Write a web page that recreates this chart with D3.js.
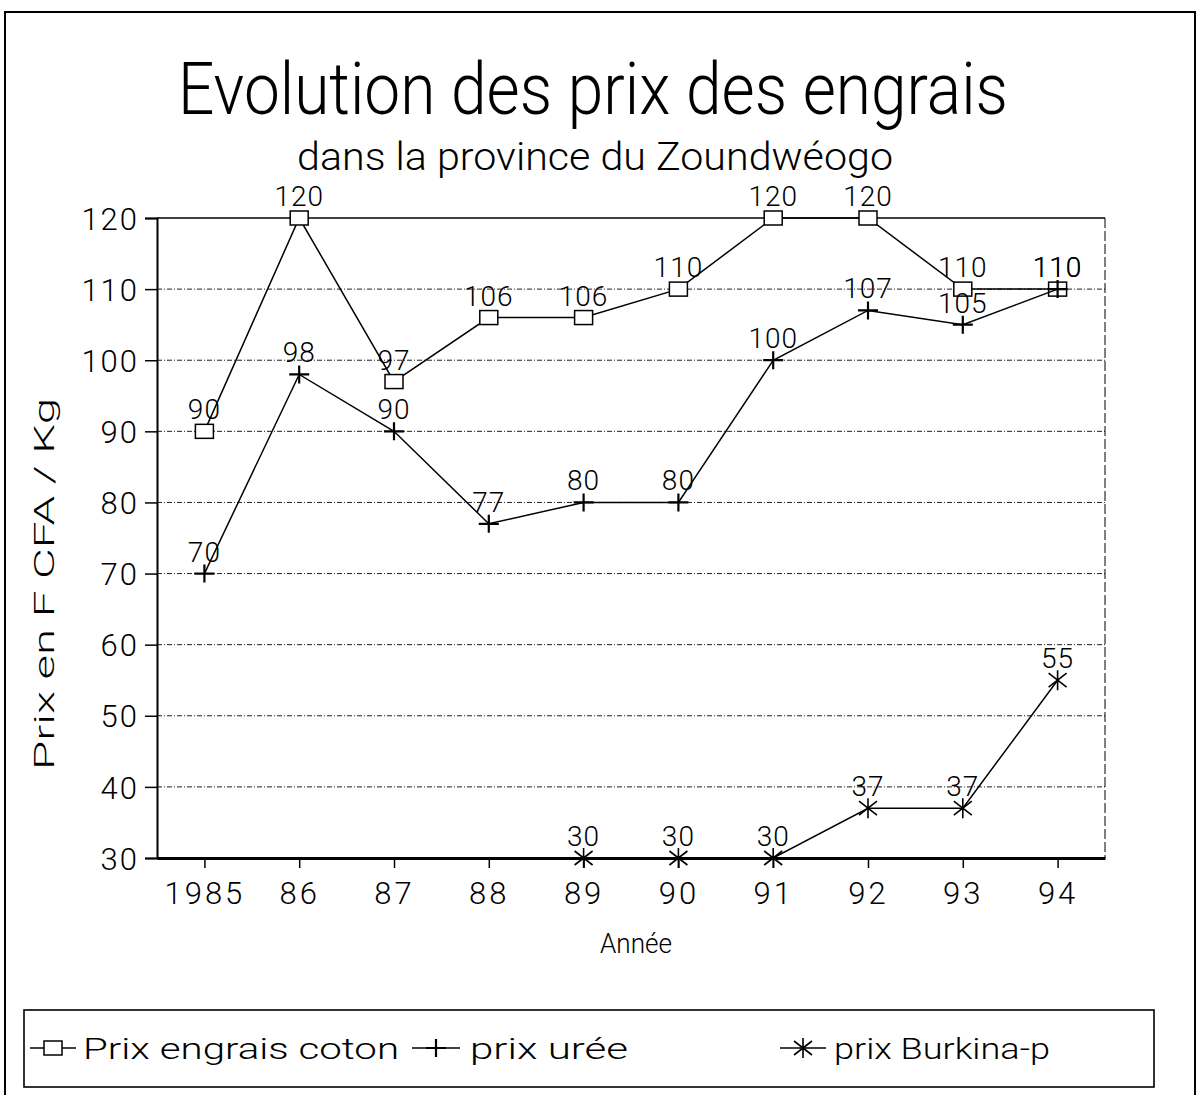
<!DOCTYPE html>
<html>
<head>
<meta charset="utf-8">
<script src="https://cdn.jsdelivr.net/npm/d3@7"></script>
<style>
  html, body { margin: 0; padding: 0; background: #fff; }
  svg { display: block; }
  text { font-family: Roboto, "DejaVu Sans", sans-serif; font-weight: 300; fill: #000; }
</style>
</head>
<body>
<svg id="chart" width="1203" height="1095"></svg>
<script>
const years = ["1985", "86", "87", "88", "89", "90", "91", "92", "93", "94"];
const prixCoton = [90, 120, 97, 106, 106, 110, 120, 120, 110, 110];
const prixUree = [70, 98, 90, 77, 80, 80, 100, 107, 105, 110];
const prixBurkina = [null, null, null, null, 30, 30, 30, 37, 37, 55];
const yTicks = [30, 40, 50, 60, 70, 80, 90, 100, 110, 120];
const seriesNames = ["Prix engrais coton", "prix urée", "prix Burkina-p"];

const svg = d3.select("#chart");
const plot = { left: 157, right: 1105, top: 218, bottom: 858 };

const x = d3.scalePoint().domain(years).range([plot.left, plot.right]).padding(0.5);
const y = d3.scaleLinear().domain([30, 120]).range([plot.bottom, plot.top]);

// Outer frame
svg.append("path")
  .attr("d", `M5,1095 V12 H1195 V1095`)
  .attr("fill", "none").attr("stroke", "#000").attr("stroke-width", 2);

// Title
svg.append("text").attr("x", 593).attr("y", 114).attr("text-anchor", "middle")
  .attr("font-size", 72).attr("textLength", 830).attr("lengthAdjust", "spacingAndGlyphs")
  .text("Evolution des prix des engrais");
svg.append("text").attr("x", 595).attr("y", 170).attr("text-anchor", "middle")
  .attr("font-size", 38).attr("textLength", 596).attr("lengthAdjust", "spacingAndGlyphs")
  .text("dans la province du Zoundwéogo");

// Grid lines
svg.append("g").selectAll("line").data(yTicks.filter(d => d > 30 && d < 120)).join("line")
  .attr("x1", plot.left).attr("x2", plot.right)
  .attr("y1", d => y(d)).attr("y2", d => y(d))
  .attr("stroke", "#222").attr("stroke-width", 1).attr("stroke-dasharray", "5,2,1,2");

// Plot frame
svg.append("line").attr("x1", plot.left).attr("x2", plot.right).attr("y1", plot.top).attr("y2", plot.top)
  .attr("stroke", "#000").attr("stroke-width", 1.6);
svg.append("line").attr("x1", plot.right).attr("x2", plot.right).attr("y1", plot.top).attr("y2", plot.bottom)
  .attr("stroke", "#000").attr("stroke-width", 1).attr("stroke-dasharray", "10,3");

// Y axis
const yAxis = d3.axisLeft(y).tickValues(yTicks).tickSize(12).tickPadding(6);
const gy = svg.append("g").attr("transform", `translate(${plot.left},0)`).call(yAxis);
gy.select(".domain").attr("stroke-width", 2);
gy.selectAll(".tick line").attr("stroke-width", 1.5);
gy.selectAll("text").attr("font-size", 31).attr("font-family", "Roboto, sans-serif").attr("letter-spacing", 2)
  .attr("dy", "0.36em");

// X axis
const xAxis = d3.axisBottom(x).tickSize(10).tickPadding(14).tickSizeOuter(0);
const gx = svg.append("g").attr("transform", `translate(0,${plot.bottom})`).call(xAxis);
gx.select(".domain").attr("stroke-width", 3);
gx.selectAll(".tick line").attr("stroke-width", 1.5);
gx.selectAll("text").attr("font-size", 31).attr("font-family", "Roboto, sans-serif").attr("letter-spacing", 3);

// Axis titles
svg.append("text").attr("transform", "translate(54,584) rotate(-90)").attr("text-anchor", "middle")
  .attr("font-size", 27).attr("textLength", 372).attr("lengthAdjust", "spacingAndGlyphs")
  .text("Prix en F CFA / Kg");
svg.append("text").attr("x", 636).attr("y", 953).attr("text-anchor", "middle")
  .attr("font-size", 27).attr("textLength", 72).attr("lengthAdjust", "spacingAndGlyphs")
  .text("Année");

// Marker generators
function squareMarker(g, cx, cy) {
  g.append("rect").attr("x", cx - 9).attr("y", cy - 7).attr("width", 18).attr("height", 14)
    .attr("fill", "#fff").attr("stroke", "#000").attr("stroke-width", 1.5);
}
function plusMarker(g, cx, cy) {
  g.append("path").attr("d", `M${cx - 10},${cy} H${cx + 10} M${cx},${cy - 9} V${cy + 9}`)
    .attr("stroke", "#000").attr("stroke-width", 2.2).attr("fill", "none");
}
function starMarker(g, cx, cy) {
  g.append("path").attr("d",
    `M${cx - 9},${cy - 7} L${cx + 9},${cy + 7} M${cx - 9},${cy + 7} L${cx + 9},${cy - 7} M${cx},${cy - 10} V${cy + 10}`)
    .attr("stroke", "#000").attr("stroke-width", 1.6).attr("fill", "none");
}

const series = [
  { name: seriesNames[0], values: prixCoton, marker: squareMarker },
  { name: seriesNames[1], values: prixUree, marker: plusMarker },
  { name: seriesNames[2], values: prixBurkina, marker: starMarker }
];

const line = d3.line()
  .defined(d => d.v !== null)
  .x(d => x(d.year)).y(d => y(d.v));

series.forEach(s => {
  const pts = years.map((yr, i) => ({ year: yr, v: s.values[i] }));
  const g = svg.append("g");
  g.append("path").datum(pts).attr("d", line)
    .attr("fill", "none").attr("stroke", "#000").attr("stroke-width", 1.5);
  pts.filter(p => p.v !== null).forEach(p => s.marker(g, x(p.year), y(p.v)));
  g.selectAll("text.lbl").data(pts.filter(p => p.v !== null)).join("text")
    .attr("class", "lbl")
    .attr("x", p => x(p.year)).attr("y", p => y(p.v) - 12)
    .attr("text-anchor", "middle").attr("font-size", 28).attr("letter-spacing", 1)
    .text(p => p.v);
});

// Legend
svg.append("rect").attr("x", 24).attr("y", 1010).attr("width", 1130).attr("height", 77)
  .attr("fill", "none").attr("stroke", "#000").attr("stroke-width", 1.6);
const legendItems = [
  { x0: 30, x1: 76, tx: 83, tl: 316 },
  { x0: 412, x1: 460, tx: 470, tl: 158 },
  { x0: 780, x1: 826, tx: 834, tl: 216 }
];
series.forEach((s, i) => {
  const li = legendItems[i];
  const g = svg.append("g");
  const ly = 1048;
  g.append("line").attr("x1", li.x0).attr("x2", li.x1).attr("y1", ly).attr("y2", ly)
    .attr("stroke", "#000").attr("stroke-width", 1.5);
  s.marker(g, (li.x0 + li.x1) / 2, ly);
  g.append("text").attr("x", li.tx).attr("y", ly + 11).attr("font-size", 29)
    .attr("textLength", li.tl).attr("lengthAdjust", "spacingAndGlyphs").text(s.name);
});
</script>
</body>
</html>
